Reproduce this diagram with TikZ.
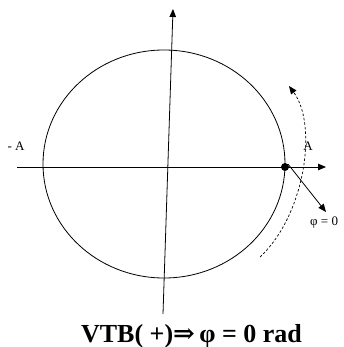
\documentclass[tikz,border=0pt]{standalone}
\usepackage{fontspec}
\setmainfont{Liberation Serif}
\newfontfamily\arrowfont{DejaVu Serif}
\usetikzlibrary{arrows.meta}
\begin{document}
\begin{tikzpicture}[x=1pt,y=-1pt,
  line/.style={line width=0.8pt},
  axis/.style={line width=0.8pt,-{Triangle[length=8pt,width=6.5pt]}},
  dashedarrow/.style={line width=0.7pt,dash pattern=on 2.5pt off 2pt,-{Triangle[length=8pt,width=6.5pt]}},
  dot/.style={circle,fill=black,inner sep=0pt,minimum size=8pt},
  small/.style={font=\fontsize{13}{15}\selectfont,inner sep=0pt},
  title/.style={font=\fontsize{26}{30}\selectfont\bfseries,inner sep=0pt}]
\useasboundingbox (0,0) rectangle (344,347);
\draw[line] (164,164) ellipse [x radius=121, y radius=114];
\coordinate (xl) at (17,167);
\coordinate (xr) at (326,167);
\coordinate (yb) at (163,314);
\coordinate (yt) at (173,9);
\draw[axis] (xl) -- (xr);
\draw[axis] (yb) -- (yt);
\node[dot] (P) at (285,167) {};
\coordinate (v) at (326,212);
\draw[axis] (P.north east) -- (v);
\coordinate (d1) at (260,257);
\coordinate (d2) at (289,86);
\draw[dashedarrow] (d1) .. controls (305,215) and (318,125) .. (d2);
\node[small] (mA) at (16,146) {- A};
\node[small] (pA) at (308,146) {A};
\node[small,anchor=west] (phi) at (310,223) {φ = 0};
\node[title,anchor=base] (t) at (191.5,342) {VTB( +){\arrowfont\bfseries ⇒}\,φ = 0 rad};
\end{tikzpicture}
\end{document}
